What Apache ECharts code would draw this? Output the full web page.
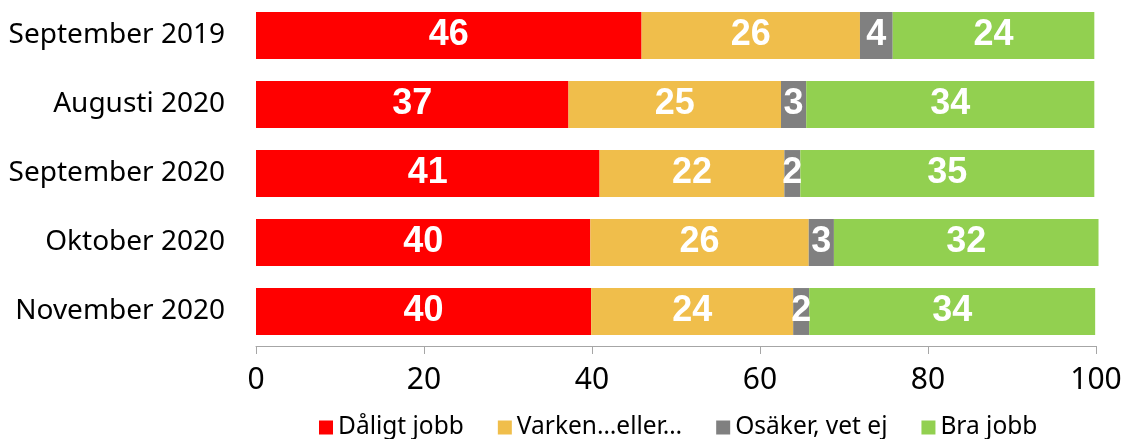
<!DOCTYPE html>
<html lang="sv">
<head>
    <meta charset="UTF-8">
    <title>Echarts</title>
    <script type="text/javascript" src="https://cdn.jsdelivr.net/npm/echarts@6/dist/echarts.min.js"></script>
    <style>
        html, body { margin: 0; padding: 0; background: #fff; }
    </style>
</head>
<body>
    <div id="main" style="width: 1122px;height:439px;"></div>
</body>

<script type="text/javascript">
    // kategorier (uppifrån och ned)
    var months = ['September 2019', 'Augusti 2020', 'September 2020', 'Oktober 2020', 'November 2020'];
    var seriesNames = ['Dåligt jobb', 'Varken…eller…', 'Osäker, vet ej', 'Bra jobb'];

    // andelar i procent
    var daligt = [45.9, 37.2, 40.9, 39.8, 39.9];
    var varken = [26.0, 25.3, 22.0, 26.0, 24.05];
    var osaker = [3.9, 3.0, 1.9, 3.0, 1.9];
    var bra = [24.0, 34.3, 35.0, 31.5, 34.05];

    var xTicks = [0, 20, 40, 60, 80, 100];

    var colors = ['#FF0000', '#F0BE4B', '#808080', '#92D050'];
    var values = [daligt, varken, osaker, bra];

    var myChart = echarts.init(document.getElementById('main'));

    var series = [];
    for (var i = 0; i < seriesNames.length; i++) {
        series.push({
            name: seriesNames[i],
            type: 'bar',
            stack: 'total',
            barCategoryGap: '32%',
            clip: false,
            data: values[i],
            itemStyle: { color: colors[i] },
            label: {
                show: true,
                position: 'inside',
                color: '#fff',
                fontFamily: 'Liberation Sans, Arial, sans-serif',
                fontWeight: 'bold',
                fontSize: 36,
                formatter: function (p) { return Math.round(p.value); }
            }
        });
    }

    var option = {
        animation: false,
        textStyle: { fontFamily: 'Noto Sans, sans-serif' },
        grid: {
            left: 256,
            right: 26,
            top: 1,
            bottom: 93,
            outerBoundsMode: 'none'
        },
        legend: {
            data: seriesNames,
            top: 410,
            left: 314,
            itemWidth: 14,
            itemHeight: 14,
            itemGap: 34,
            icon: 'rect',
            textStyle: { fontSize: 24.5, color: '#000', fontFamily: 'Noto Sans, sans-serif' }
        },
        xAxis: {
            type: 'value',
            min: xTicks[0],
            max: xTicks[xTicks.length - 1],
            interval: 20,
            axisLine: { show: true, lineStyle: { color: '#A6A6A6', width: 1 } },
            axisTick: { show: true, length: 8, lineStyle: { color: '#A6A6A6' } },
            splitLine: { show: false },
            axisLabel: {
                color: '#000',
                fontSize: 30,
                margin: 19,
                fontFamily: 'Noto Sans, sans-serif'
            }
        },
        yAxis: {
            type: 'category',
            data: months,
            inverse: true,
            axisLine: { show: false },
            axisTick: { show: false },
            axisLabel: {
                color: '#000',
                fontSize: 28,
                margin: 31,
                fontFamily: 'Noto Sans, sans-serif'
            }
        },
        series: series
    };

    myChart.setOption(option);
</script>
</html>
